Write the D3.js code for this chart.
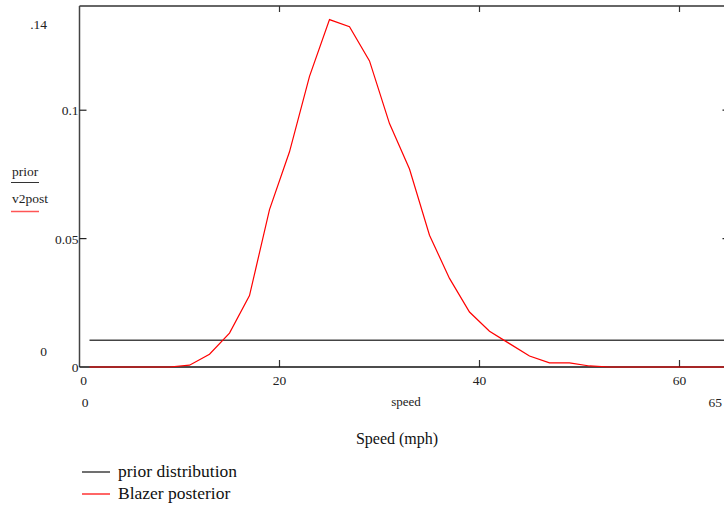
<!DOCTYPE html>
<html>
<head>
<meta charset="utf-8">
<script src="https://cdn.jsdelivr.net/npm/d3@7"></script>
<style>
  body { margin: 0; background: #fff; }
  svg { display: block; font-family: "Liberation Serif", "DejaVu Serif", serif; }
</style>
</head>
<body>
<svg id="chart" width="724" height="506"></svg>
<script>
// speeds sampled every 2 mph
const speed = [1,3,5,7,9,11,13,15,17,19,21,23,25,27,29,31,33,35,37,39,41,43,45,47,49,51,53,55,57,59,61,63,65];
const prior = speed.map(() => 0.0104);
const v2post = [0,0,0,0,0,0.0007,0.005,0.0132,0.0278,0.0613,0.0838,0.1132,0.1353,0.1325,0.1192,0.0948,0.0771,0.0513,0.0345,0.0214,0.0139,0.0091,0.0043,0.0016,0.0016,0.0004,0,0,0,0,0,0,0];
const xTicks = [20, 40, 60];
const yTicks = [0.05, 0.1];

const svg = d3.select("#chart");

const x = d3.scaleLinear().domain([0, 65]).range([79.5, 729.5]);
const y = d3.scaleLinear().domain([0, 0.14]).range([367, 7.5]);

const frameTop = 6, frameBot = y(0);

// frame
const g = svg.append("g");
g.append("line") // top
    .attr("x1", x(0)).attr("x2", x(65)).attr("y1", frameTop).attr("y2", frameTop)
    .attr("stroke", "#333").attr("stroke-width", 1.5);
g.append("line") // left
    .attr("x1", x(0)).attr("x2", x(0)).attr("y1", frameTop).attr("y2", frameBot)
    .attr("stroke", "#444").attr("stroke-width", 1.5);
g.append("line") // right
    .attr("x1", x(65)).attr("x2", x(65)).attr("y1", frameTop).attr("y2", frameBot)
    .attr("stroke", "#444").attr("stroke-width", 1.5);

// ticks
xTicks.forEach(t => {
  g.append("line").attr("x1", x(t)).attr("x2", x(t)).attr("y1", frameTop).attr("y2", frameTop + 6)
      .attr("stroke", "#333").attr("stroke-width", 1.2);
  g.append("line").attr("x1", x(t)).attr("x2", x(t)).attr("y1", frameBot).attr("y2", frameBot - 7)
      .attr("stroke", "#333").attr("stroke-width", 1.2);
  g.append("text").attr("x", x(t)).attr("y", frameBot + 18)
      .attr("text-anchor", "middle").attr("font-size", 13.5).attr("fill", "#222").text(t);
});
yTicks.forEach(t => {
  g.append("line").attr("x1", x(0)).attr("x2", x(0) + 7).attr("y1", y(t)).attr("y2", y(t))
      .attr("stroke", "#222").attr("stroke-width", 1.2);
  g.append("line").attr("x1", x(65)).attr("x2", x(65) - 7).attr("y1", y(t)).attr("y2", y(t))
      .attr("stroke", "#222").attr("stroke-width", 1.2);
  g.append("text").attr("x", x(0) - 1).attr("y", y(t) + 5)
      .attr("text-anchor", "end").attr("font-size", 13.5).attr("fill", "#222").text(t);
});
g.append("text").attr("x", x(0) - 1).attr("y", frameBot + 5)
    .attr("text-anchor", "end").attr("font-size", 13.5).attr("fill", "#222").text("0");
g.append("text").attr("x", x(0) + 4).attr("y", frameBot + 18)
    .attr("text-anchor", "middle").attr("font-size", 13.5).attr("fill", "#222").text("0");

// Mathcad-style range labels
g.append("text").attr("x", 47).attr("y", 29).attr("text-anchor", "end")
    .attr("font-size", 13.5).attr("fill", "#222").text(".14");
g.append("text").attr("x", 47).attr("y", 356).attr("text-anchor", "end")
    .attr("font-size", 13.5).attr("fill", "#222").text("0");
g.append("text").attr("x", 85).attr("y", 407).attr("text-anchor", "middle")
    .attr("font-size", 13.5).attr("fill", "#222").text("0");
g.append("text").attr("x", 722).attr("y", 407).attr("text-anchor", "end")
    .attr("font-size", 13.5).attr("fill", "#222").text("65");
g.append("text").attr("x", 406).attr("y", 406).attr("text-anchor", "middle")
    .attr("font-size", 13).attr("fill", "#222").text("speed");

// y axis trace labels
g.append("text").attr("x", 12).attr("y", 176).attr("font-size", 13.5).attr("fill", "#222").text("prior");
g.append("line").attr("x1", 11).attr("x2", 39).attr("y1", 182.5).attr("y2", 182.5)
    .attr("stroke", "#333").attr("stroke-width", 1);
g.append("text").attr("x", 12).attr("y", 203).attr("font-size", 13.5).attr("fill", "#222").text("v2post");
g.append("line").attr("x1", 11).attr("x2", 39).attr("y1", 211.5).attr("y2", 211.5)
    .attr("stroke", "#f55").attr("stroke-width", 1.5);

// data lines
const line = d3.line().x(d => x(d[0])).y(d => y(d[1]));
g.append("path").datum(speed.map((s, i) => [s, prior[i]]))
    .attr("d", line).attr("fill", "none").attr("stroke", "#444").attr("stroke-width", 1.5);

// bottom axis on top of prior, under posterior
g.append("line")
    .attr("x1", x(0)).attr("x2", x(65)).attr("y1", frameBot).attr("y2", frameBot)
    .attr("stroke", "#111").attr("stroke-width", 1.5);

g.append("path").datum(speed.map((s, i) => [s, v2post[i]]))
    .attr("d", line).attr("fill", "none").attr("stroke", "#f00").attr("stroke-width", 1.2);

// axis title
g.append("text").attr("x", 397).attr("y", 444).attr("text-anchor", "middle")
    .attr("font-size", 16).attr("fill", "#111").text("Speed (mph)");

// legend
const legend = [
  {label: "prior distribution", color: "#111"},
  {label: "Blazer posterior", color: "#f00"}
];
legend.forEach((d, i) => {
  const ly = 472 + i * 22;
  g.append("line").attr("x1", 82).attr("x2", 110).attr("y1", ly).attr("y2", ly)
      .attr("stroke", d.color).attr("stroke-width", 1.2);
  g.append("text").attr("x", 118).attr("y", ly + 5).attr("font-size", 17.5)
      .attr("fill", "#111").text(d.label);
});
</script>
</body>
</html>
